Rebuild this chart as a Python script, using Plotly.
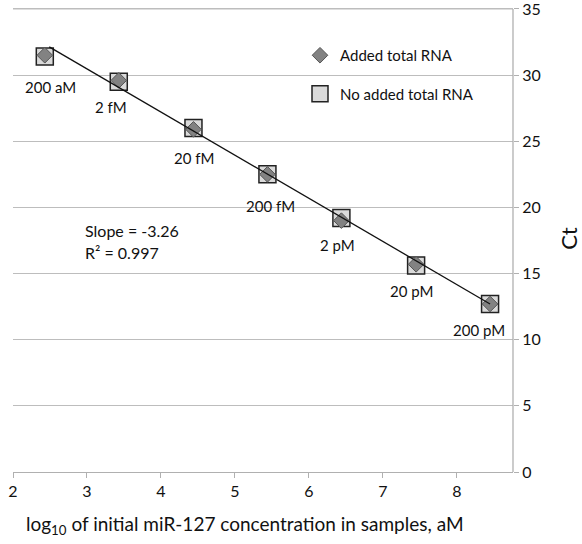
import plotly.graph_objects as go

# Data
conc_labels = ["200 aM", "2 fM", "20 fM", "200 fM", "2 pM", "20 pM", "200 pM"]
log_conc = [2.43, 3.43, 4.44, 5.44, 6.44, 7.45, 8.45]
ct_added = [31.5, 29.6, 25.9, 22.5, 19.0, 15.7, 12.7]
ct_no_added = [31.4, 29.5, 26.0, 22.5, 19.2, 15.6, 12.7]
slope = -3.26
intercept = 40.25
r2 = 0.997
x_ticks = [2, 3, 4, 5, 6, 7, 8]
y_ticks = [0, 5, 10, 15, 20, 25, 30, 35]

# label offsets (px) relative to each point
label_dx = [6, -8, 1, 3, -4, -5, -11]
label_dy = [-30, -25, -30, -32, -27, -25, -26]

FONT = "Lato"
PLOT_H = 467.0  # plot area height in px (top 5, bottom 472)

def py(pix):
    return (472 - pix) / PLOT_H

fig = go.Figure()

fig.add_trace(go.Scatter(
    x=log_conc, y=ct_no_added, mode="markers", name="No added total RNA",
    marker=dict(symbol="square", size=17, color="#dadada",
                line=dict(color="#222222", width=1.5)),
    legendgroup="b", legendrank=2,
))
fig.add_trace(go.Scatter(
    x=log_conc, y=ct_added, mode="markers", name="Added total RNA",
    marker=dict(symbol="diamond", size=12, color="#828282",
                line=dict(color="#555555", width=1)),
    legendgroup="a", legendrank=1,
))
x_line = [min(log_conc) + 0.06, max(log_conc)]
y_line = [intercept + slope * v for v in x_line]
fig.add_trace(go.Scatter(
    x=x_line, y=y_line, mode="lines", showlegend=False,
    line=dict(color="#111111", width=1.3),
))

for lab, xv, yv, dx, dy in zip(conc_labels, log_conc, ct_no_added, label_dx, label_dy):
    fig.add_annotation(x=xv, y=yv, text=lab, showarrow=False, xshift=dx, yshift=dy,
                       font=dict(family=FONT, size=15, color="#111111"))

fig.add_annotation(xref="paper", yref="paper", x=(83 - 13) / 500, y=py(230),
                   xanchor="left", yanchor="middle", showarrow=False,
                   text=f"Slope = {slope:.2f}", font=dict(family=FONT, size=16, color="#111111"))
fig.add_annotation(xref="paper", yref="paper", x=(83 - 13) / 500, y=py(252),
                   xanchor="left", yanchor="middle", showarrow=False,
                   text=f"R² = {r2}", font=dict(family=FONT, size=16, color="#111111"))

# x-axis title (placed as annotation to match left-shifted position)
fig.add_annotation(xref="paper", yref="paper", x=(245 - 13) / 500, y=py(525),
                   xanchor="center", yanchor="middle", showarrow=False,
                   text="log<sub>10</sub> of initial miR-127 concentration in samples, aM",
                   font=dict(family=FONT, size=19, color="#111111"))

fig.update_layout(
    width=582, height=544,
    margin=dict(l=13, r=69, t=5, b=72, autoexpand=False),
    paper_bgcolor="white", plot_bgcolor="white",
    font=dict(family=FONT, size=16, color="#111111"),
    legend=dict(x=0.574, y=py(39), xanchor="left", yanchor="top",
                font=dict(family=FONT, size=15), tracegroupgap=16,
                bgcolor="rgba(0,0,0,0)", traceorder="grouped"),
    xaxis=dict(range=[2, 8.76], tickvals=x_ticks, showgrid=False, zeroline=False,
               showline=True, linecolor="#b0b0b0", linewidth=1.3,
               ticks="outside", ticklen=5, tickcolor="#b0b0b0",
               tickfont=dict(size=16), automargin=False),
    yaxis=dict(range=[0, 35.3], tickvals=y_ticks, side="right", showgrid=True,
               gridcolor="#bdbdbd", gridwidth=1.3, zeroline=False,
               showline=False,
               ticks="outside", ticklen=5, tickcolor="#b0b0b0",
               tickfont=dict(size=16), ticklabeloverflow="allow", automargin=False,
               title=dict(text="Ct", font=dict(size=22), standoff=24)),
)

# top gridline at 35 (drawn explicitly) and right axis line from 0 to 35
fig.add_shape(type="line", xref="paper", yref="y", x0=0, x1=1,
              y0=y_ticks[-1], y1=y_ticks[-1],
              line=dict(color="#bdbdbd", width=1.3), layer="below")
fig.add_shape(type="line", xref="paper", yref="y", x0=1, x1=1, y0=y_ticks[0], y1=y_ticks[-1],
              line=dict(color="#b0b0b0", width=1.3))

fig.write_html("out.html")
